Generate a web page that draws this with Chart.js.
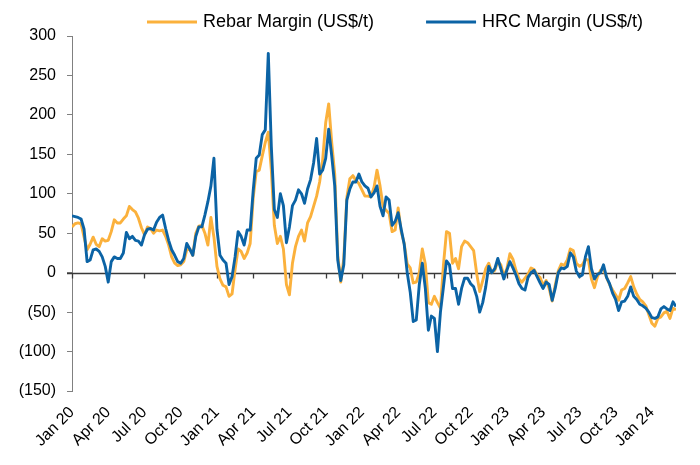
<!DOCTYPE html>
<html>
<head>
<meta charset="utf-8">
<script src="https://cdn.jsdelivr.net/npm/chart.js@4.4.1/dist/chart.umd.min.js"></script>
<style>
  html, body { margin: 0; padding: 0; background: #fff; }
  #wrap { width: 700px; height: 465px; position: relative; }
</style>
</head>
<body>
<div id="wrap"><canvas id="c" width="700" height="465"></canvas></div>
<script>
// Quarterly tick labels (one every 3 months starting Jan 2020)
const tickLabels = ['Jan 20','Apr 20','Jul 20','Oct 20','Jan 21','Apr 21','Jul 21','Oct 21',
  'Jan 22','Apr 22','Jul 22','Oct 22','Jan 23','Apr 23','Jul 23','Oct 23','Jan 24'];

// Series sampled weekly (every quarter of a month) from Jan 2020 to Mar 2024
const sampleStepMonths = 0.25;

const rebarMargin = [
  58, 62, 63, 62, 45, 29, 36, 45, 36, 33,
  43, 40, 41, 52, 67, 63, 63, 68, 72, 84,
  80, 77, 69, 57, 48, 58, 56, 50, 54, 53,
  54, 46, 35, 20, 12, 9, 10, 14, 29, 30,
  22, 50, 59, 60, 50, 35, 70, 45, 8, -8,
  -16, -18, -30, -27, 4, 30, 27, 18, 25, 37,
  95, 128, 130, 148, 165, 178, 130, 60, 37, 46,
  30, -15, -28, 12, 33, 46, 54, 40, 63, 71,
  84, 97, 115, 143, 190, 214, 165, 125, 22, -12,
  18, 95, 119, 123, 117, 113, 105, 97, 97, 96,
  108, 130, 110, 84, 79, 75, 52, 54, 82, 52,
  37, 11, 6, -13, -12, 0, 30, 11, -38, -40,
  -30, -38, -45, 10, 52, 50, 12, 18, 5, 33,
  40, 38, 33, 28, -1, -24, -10, 5, 12, 0,
  3, 14, 10, -4, 5, 24, 17, 3, -8, -12,
  -7, -2, 6, 4, -3, -6, -16, -10, -20, -36,
  -16, 2, 11, 9, 16, 30, 28, 12, 8, 10,
  17, 16, -8, -19, -5, 3, 5, -6, -15, -22,
  -28, -35, -22, -20, -13, -5, -18, -27, -34, -37,
  -42, -53, -64, -68, -58, -56, -51, -49, -58, -45, -47
];

const hrcMargin = [
  72, 71, 70, 68, 55, 14, 16, 29, 30, 27,
  20, 8, -12, 14, 20, 18, 18, 25, 51, 43,
  46, 41, 40, 35, 48, 55, 56, 54, 64, 70,
  73, 56, 41, 29, 22, 14, 12, 18, 37, 30,
  22, 46, 58, 58, 73, 90, 110, 145, 55, 22,
  16, 12, -15, -5, 20, 52, 46, 35, 54, 54,
  104, 145, 149, 175, 181, 278, 160, 80, 70, 100,
  85, 38, 58, 85, 92, 105, 100, 88, 106, 118,
  139, 170, 125, 130, 145, 182, 148, 110, 16, -10,
  10, 92, 106, 115, 115, 125, 115, 110, 107, 96,
  101, 110, 84, 72, 96, 92, 60, 65, 76, 55,
  36, 0, -25, -62, -60, -15, 12, -20, -73, -55,
  -58, -100, -50, -18, 15, 10, -20, -20, -40, -20,
  -7, -7, -14, -18, -30, -50, -38, -18, 8, 0,
  5, 18, 5, -8, 3, 14, 6, -3, -14, -20,
  -22, -6, 0, 3, -5, -13, -20, -12, -15, -35,
  -20, 0, 6, 5, 8, 25, 20, 2, -5, -3,
  20, 33, 5, -8, -2, 0, 10, -6, -14, -26,
  -34, -48, -37, -36, -30, -18, -30, -34, -40, -42,
  -45, -50, -57, -58, -56, -46, -43, -46, -48, -37, -43
];

const FONT = '"Liberation Sans", Arial, Helvetica, sans-serif';
const toPoints = arr => arr.map((v, i) => ({ x: i * sampleStepMonths, y: v }));

const zeroAxis = {
  id: 'zeroAxis',
  beforeDatasetsDraw(chart) {
    const { ctx, scales: { x, y }, chartArea } = chart;
    const y0 = Math.round(y.getPixelForValue(0)) + 0.5;
    ctx.save();
    ctx.strokeStyle = '#3a3a3a';
    ctx.lineWidth = 1.3;
    ctx.beginPath();
    ctx.moveTo(chartArea.left - 5, y0);
    ctx.lineTo(chartArea.right, y0);
    x.ticks.forEach(t => {
      const px = Math.round(x.getPixelForValue(t.value)) + 0.5;
      ctx.moveTo(px, y0);
      ctx.lineTo(px, y0 + 5);
    });
    ctx.stroke();
    ctx.restore();
  }
};

const topLegend = {
  id: 'topLegend',
  afterDraw(chart) {
    const ctx = chart.ctx;
    ctx.save();
    ctx.font = '18px ' + FONT;
    ctx.textBaseline = 'middle';
    ctx.textAlign = 'left';
    const y = 22;
    let x = 147;
    chart.data.datasets.forEach(ds => {
      ctx.strokeStyle = ds.borderColor;
      ctx.lineWidth = 3;
      ctx.beginPath();
      ctx.moveTo(x, y);
      ctx.lineTo(x + 50, y);
      ctx.stroke();
      ctx.fillStyle = '#000';
      ctx.fillText(ds.label, x + 56, y);
      x += 56 + ctx.measureText(ds.label).width + 52;
    });
    ctx.restore();
  }
};

new Chart(document.getElementById('c'), {
  type: 'line',
  data: {
    datasets: [
      {
        label: 'Rebar Margin (US$/t)',
        data: toPoints(rebarMargin),
        borderColor: '#FBB13C',
        borderWidth: 2.9,
        pointRadius: 0,
        tension: 0,
        borderJoinStyle: 'round',
        order: 1
      },
      {
        label: 'HRC Margin (US$/t)',
        data: toPoints(hrcMargin),
        borderColor: '#0B63A5',
        borderWidth: 2.9,
        pointRadius: 0,
        tension: 0,
        borderJoinStyle: 'round',
        order: 0
      }
    ]
  },
  options: {
    responsive: false,
    animation: false,
    layout: { padding: { left: 0, right: 24, top: 36, bottom: 0 } },
    plugins: {
      legend: { display: false },
      tooltip: { enabled: false }
    },
    scales: {
      x: {
        type: 'linear',
        min: 0,
        max: 50,
        grid: { display: false, drawTicks: false },
        border: { display: false },
        afterBuildTicks: s => { s.ticks = tickLabels.map((_, i) => ({ value: i * 3 })); },
        afterFit: s => { s.height = 74; },
        ticks: {
          autoSkip: false,
          minRotation: 45,
          maxRotation: 45,
          padding: 12,
          color: '#000',
          font: { family: FONT, size: 16 },
          callback: v => tickLabels[Math.round(v / 3)] ?? ''
        }
      },
      y: {
        min: -150,
        max: 300,
        afterFit: s => { s.width = 72; },
        afterBuildTicks: s => {
          const t = [];
          for (let v = -150; v <= 300; v += 50) t.push({ value: v });
          s.ticks = t;
        },
        grid: {
          display: true,
          drawOnChartArea: false,
          drawTicks: true,
          tickLength: 5,
          color: '#808080'
        },
        border: { display: true, color: '#808080', width: 1 },
        ticks: {
          padding: 11,
          color: '#000',
          font: { family: FONT, size: 16 },
          callback: v => v < 0 ? '(' + Math.abs(v) + ')' : String(v)
        }
      }
    }
  },
  plugins: [zeroAxis, topLegend]
});
</script>
</body>
</html>
